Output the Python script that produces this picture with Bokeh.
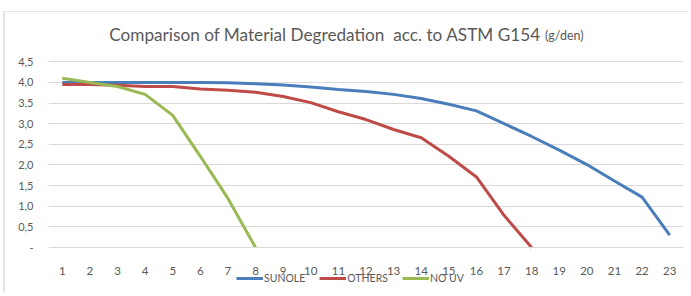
from bokeh.plotting import figure
from bokeh.models import FixedTicker, Legend, LegendItem
from bokeh.core.properties import value
from bokeh.embed import file_html
from bokeh.resources import INLINE

categories = [str(i) for i in range(1, 24)]
sunole = [4.0, 4.0, 4.0, 4.0, 4.0, 4.0, 3.99, 3.97, 3.94, 3.89, 3.83, 3.78, 3.71,
          3.61, 3.47, 3.31, 3.0, 2.69, 2.36, 2.01, 1.61, 1.22, 0.3]
others = [3.95, 3.95, 3.93, 3.9, 3.9, 3.84, 3.81, 3.76, 3.66, 3.51, 3.29, 3.1,
          2.86, 2.66, 2.21, 1.71, 0.78, 0.0]
no_uv = [4.1, 4.0, 3.9, 3.71, 3.2, 2.21, 1.19, 0.0]
y_ticks = [0, 0.5, 1.0, 1.5, 2.0, 2.5, 3.0, 3.5, 4.0, 4.5]
y_tick_labels = ["-", "0,5", "1,0", "1,5", "2,0", "2,5", "3,0", "3,5", "4,0", "4,5"]
title_main = "Comparison of Material Degredation\u00a0 acc. to ASTM G154"
title_unit = "(g/den)"

FONT = "Lato"
GRAY = "#595959"

p = figure(x_range=categories, y_range=(-1.09, 5.5), frame_width=635, frame_height=272,
           output_backend="svg", toolbar_location=None,
           min_border_left=43, min_border_right=5, min_border_top=8, min_border_bottom=0)
p.styles = {"margin-left": "3px", "margin-top": "11px",
            "border-left": "2px solid #E4E4E4", "border-top": "1px solid #E4E4E4"}
p.outline_line_color = None
p.background_fill_color = "white"
p.border_fill_color = "white"

p.xgrid.grid_line_color = None
p.ygrid.ticker = FixedTicker(ticks=y_ticks[1:])
p.ygrid.grid_line_color = "#D9D9D9"
p.ygrid.grid_line_width = 1

p.yaxis.ticker = FixedTicker(ticks=y_ticks)
p.yaxis.major_label_overrides = {t: l for t, l in zip(y_ticks, y_tick_labels)}
p.yaxis.axis_line_color = None
p.yaxis.major_tick_line_color = None
p.yaxis.minor_tick_line_color = None
p.yaxis.major_label_standoff = 9
p.yaxis.major_label_text_font = FONT
p.yaxis.major_label_text_font_size = "11px"
p.yaxis.major_label_text_color = GRAY

p.xaxis.fixed_location = 0
p.xaxis.axis_line_color = "#D9D9D9"
p.xaxis.axis_line_width = 1
p.xaxis.major_tick_line_color = None
p.xaxis.minor_tick_line_color = None
p.xaxis.major_label_standoff = 13
p.xaxis.major_label_text_font = FONT
p.xaxis.major_label_text_font_size = "11.5px"
p.xaxis.major_label_text_color = GRAY

r1 = p.line(categories[:len(sunole)], sunole, line_color="#4A7EBB", line_width=3)
r2 = p.line(categories[:len(others)], others, line_color="#BE4B48", line_width=3)
r3 = p.line(categories[:len(no_uv)], no_uv, line_color="#98B954", line_width=3)

p.text(x=["12"], y=[5.15], text=[title_main], text_align="right", text_baseline="middle",
       x_offset=175, text_font=value(FONT), text_font_size="17.2px", text_color=GRAY)
p.text(x=["12"], y=[5.15], text=[title_unit], text_align="left", text_baseline="middle",
       x_offset=179, y_offset=1, text_font=value(FONT), text_font_size="12.5px", text_color=GRAY)

legend = Legend(items=[LegendItem(label="SUNOLE", renderers=[r1]),
                       LegendItem(label="OTHERS", renderers=[r2]),
                       LegendItem(label="NO UV", renderers=[r3])],
                orientation="horizontal", location=(188, 8))
legend.label_text_font = FONT
legend.label_text_font_size = "10.5px"
legend.label_text_color = GRAY
legend.glyph_width = 27
legend.glyph_height = 12
legend.label_height = 12
legend.label_width = 40
legend.label_standoff = 1
legend.spacing = 14
legend.padding = 0
legend.margin = 0
legend.border_line_color = None
legend.background_fill_alpha = 0
p.add_layout(legend, "center")

open("out.html", "w").write(file_html(p, INLINE))
